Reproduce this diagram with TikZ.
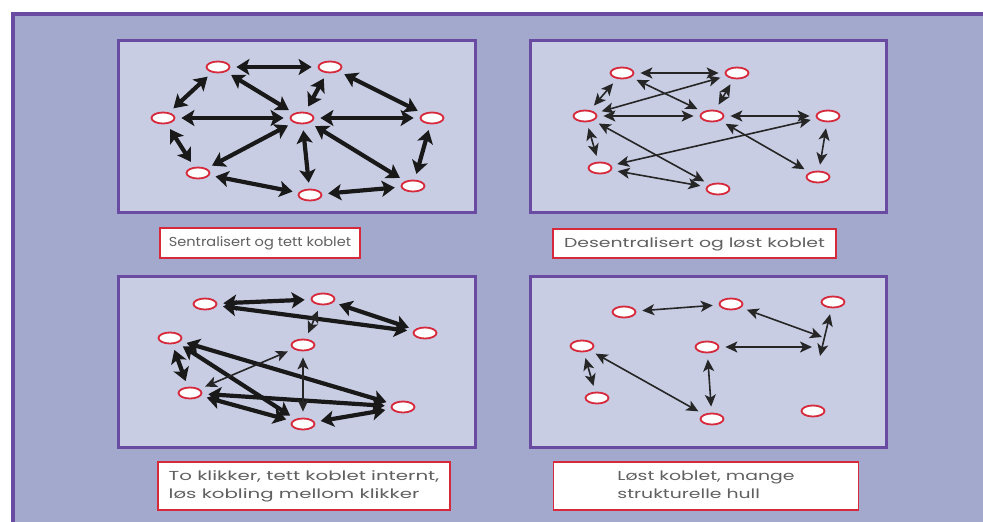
\documentclass[tikz,border=0pt]{standalone}
\usepackage{fontspec}
\setmainfont{Poppins}
\usetikzlibrary{arrows.meta,shapes.geometric}
\definecolor{outerbg}{HTML}{A2A9CC}
\definecolor{panelbg}{HTML}{C8CDE3}
\definecolor{frame}{HTML}{6A4BA2}
\definecolor{nodered}{HTML}{D62A3C}
\definecolor{captxt}{HTML}{606060}
\tikzset{
  actor/.style={ellipse, draw=nodered, line width=1.8pt, fill=white,
    minimum width=23pt, minimum height=11pt, inner sep=0pt},
  panel/.style={draw=frame, line width=3pt, fill=panelbg},
  strong/.style={line width=4.2pt, draw=black!90,
    {Stealth[length=13pt,width=16pt,inset=3pt]}-{Stealth[length=13pt,width=16pt,inset=3pt]},
    shorten <=6pt, shorten >=6pt},
  weak/.style={line width=1.6pt, draw=black!85,
    {Stealth[length=12pt,width=11pt,inset=3pt]}-{Stealth[length=12pt,width=11pt,inset=3pt]},
    shorten <=6pt, shorten >=6pt},
  caption/.style={draw=nodered, line width=1.6pt, fill=white, text=captxt,
    font=\fontsize{13}{18}\selectfont, inner sep=0pt}
}
% caption text, stretched horizontally by #1
\newcommand{\captext}[2]{\scalebox{#1}[1]{\begin{tabular}{@{}l@{}}#2\end{tabular}}}
\begin{document}
\begin{tikzpicture}[x=1pt,y=-1pt]
\useasboundingbox (0,0) rectangle (983,522);
% page and outer frame
\fill[white] (0,0) rectangle (983,522);
\fill[outerbg] (13,14) rectangle (983,522);
\draw[frame, line width=3.5pt] (13,522) -- (13,14) -- (983,14);

% four panels
\draw[panel] (118,40) rectangle (475,212);
\draw[panel] (530,40) rectangle (886,212);
\draw[panel] (118,276) rectangle (475,447);
\draw[panel] (530,276) rectangle (886,447);

% centralised, densely connected network
\node[actor] (p1a) at (218,67) {};
\node[actor] (p1b) at (330,67) {};
\node[actor] (p1c) at (163,118) {};
\node[actor] (p1d) at (302,118) {};
\node[actor] (p1e) at (432,118) {};
\node[actor] (p1f) at (198,173) {};
\node[actor] (p1g) at (310,195) {};
\node[actor] (p1h) at (413,186) {};
\foreach \u/\v in {p1a/p1b, p1a/p1c, p1a/p1d, p1b/p1d, p1b/p1e, p1c/p1d,
                   p1c/p1f, p1d/p1f, p1d/p1g, p1d/p1e, p1d/p1h, p1e/p1h,
                   p1f/p1g, p1g/p1h}
  \draw[strong] (\u) -- (\v);

% decentralised, loosely connected network
\node[actor] (p2a) at (622,73) {};
\node[actor] (p2b) at (737,73) {};
\node[actor] (p2c) at (585,116) {};
\node[actor] (p2d) at (712,116) {};
\node[actor] (p2e) at (828,116) {};
\node[actor] (p2f) at (600,168) {};
\node[actor] (p2g) at (718,189) {};
\node[actor] (p2h) at (818,177) {};
\foreach \u/\v in {p2a/p2b, p2a/p2c, p2a/p2d, p2b/p2c, p2b/p2d, p2c/p2d,
                   p2c/p2f, p2c/p2g, p2d/p2e, p2d/p2h, p2e/p2f, p2e/p2h,
                   p2f/p2g}
  \draw[weak] (\u) -- (\v);

% two cliques
\node[actor] (p3a) at (205,304) {};
\node[actor] (p3b) at (323,299) {};
\node[actor] (p3c) at (425,333) {};
\node[actor] (p3d) at (170,338) {};
\node[actor] (p3e) at (303,345) {};
\node[actor] (p3f) at (190,393) {};
\node[actor] (p3g) at (403,407) {};
\node[actor] (p3h) at (303,424) {};
\foreach \u/\v in {p3a/p3b, p3a/p3c, p3b/p3c, p3d/p3f, p3d/p3g, p3d/p3h,
                   p3f/p3g, p3f/p3h, p3h/p3g}
  \draw[strong] (\u) -- (\v);
\foreach \u/\v in {p3b/p3e, p3e/p3f, p3e/p3h}
  \draw[weak] (\u) -- (\v);

% loosely connected, structural holes
\node[actor] (p4a) at (624,312) {};
\node[actor] (p4b) at (731,304) {};
\node[actor] (p4c) at (833,302) {};
\node[actor] (p4d) at (582,346) {};
\node[actor] (p4e) at (707,347) {};
\node[actor] (p4f) at (597,398) {};
\node[actor] (p4g) at (712,419) {};
\node[actor] (p4h) at (813,411) {};
\coordinate (j1) at (822,337);
\coordinate (j2) at (812,347);
\coordinate (j3) at (820,356);
\foreach \u/\v in {p4a/p4b, p4d/p4f, p4d/p4g, p4e/p4g}
  \draw[weak] (\u) -- (\v);
\draw[weak, shorten >=0pt] (p4b) -- (j1);
\draw[weak, shorten >=0pt] (p4e) -- (j2);
\draw[weak, shorten >=0pt] (p4c) -- (j3);

% captions
\node[caption, minimum width=200pt, minimum height=30pt] (cap1) at (260,243)
  {\captext{1.12}{Sentralisert og tett koblet}};
\node[caption, minimum width=283pt, minimum height=29pt] (cap2) at (694.5,243.5)
  {\captext{1.45}{Desentralisert og løst koblet}};
\node[caption, minimum width=292pt, minimum height=48pt] (cap3) at (304,486)
  {\captext{1.52}{To klikker, tett koblet internt,\\løs kobling mellom klikker}};
\node[caption, minimum width=305pt, minimum height=48pt] (cap4) at (706,486)
  {\captext{1.45}{Løst koblet, mange\\strukturelle hull}};
\end{tikzpicture}
\end{document}
